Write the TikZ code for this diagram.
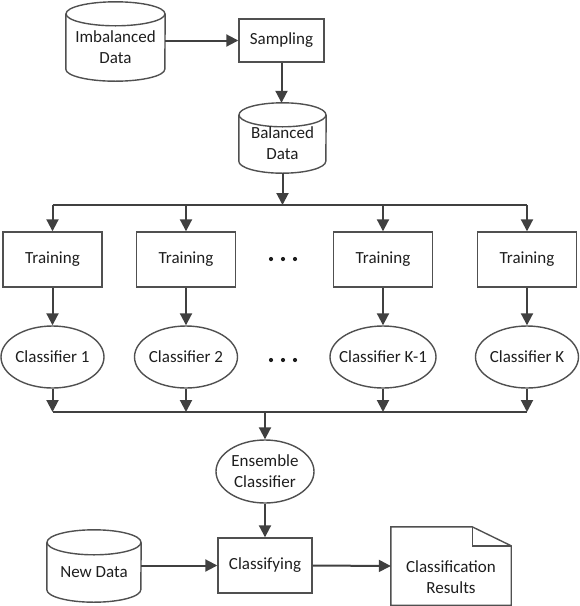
\documentclass[tikz,border=0pt]{standalone}
\usepackage{fontspec}
\setmainfont{Carlito}
\usetikzlibrary{shapes.geometric,arrows.meta,calc}
\definecolor{linec}{HTML}{404040}
\definecolor{boxc}{HTML}{505050}
\definecolor{txtc}{HTML}{1E1E1E}
\newcommand\zw[1]{\makebox[0pt]{#1}}
\newcommand\cylout[3]{%
  \draw[outl] ([yshift=-#3pt]#1.north) ellipse [x radius=#2pt, y radius=#3pt];
  \draw[outl] ([yshift=-#3pt]#1.north west) -- ([yshift=#3pt]#1.south west)
     arc[start angle=180, end angle=360, x radius=#2pt, y radius=#3pt]
     -- ([yshift=-#3pt]#1.north east);}
\begin{document}
\begin{tikzpicture}[x=1pt,y=-1pt, font=\fontsize{17}{21}\selectfont, text=txtc,
  conn/.style={draw=linec, line width=2pt},
  arr/.style={conn, -{Triangle[length=12pt,width=12pt]}},
  outl/.style={draw=boxc, line width=1.4pt},
  box/.style={outl, rectangle, inner sep=0pt, align=center},
  ell/.style={outl, ellipse, inner sep=0pt, align=center},
  cylnode/.style={rectangle, inner sep=0pt},
  lbl/.style={inner sep=0pt, align=center},
  trn/.style={box, minimum width=99pt, minimum height=55pt},
  clf/.style={ell, minimum width=103pt, minimum height=62pt}]
\useasboundingbox (0,0) rectangle (580,606);

% top part
\node[cylnode, minimum width=99pt, minimum height=79pt] (imb) at (115.5,41.5) {};
\cylout{imb}{49.5}{12}
\node[lbl] (imbt) at (115.5,47.5) {Imbalanced\\Data};
\node[box, minimum width=85pt, minimum height=43pt] (samp) at (281.5,40.5) {Sampling};
\node[cylnode, minimum width=87pt, minimum height=70pt] (bal) at (282.5,138) {};
\cylout{bal}{43.5}{12}
\node[lbl] (balt) at (282.5,143.5) {Balanced\\Data};

\draw[arr] (imb.east |- samp.west) -- (samp.west);
\draw[arr] (samp.south) -- (samp.south |- bal.north);

% training
\node[trn] (t1) at (52.5,259.5) {Training};
\node[trn] (t2) at (186,259.5) {Training};
\node[trn] (t3) at (383,259.5) {Training};
\node[trn] (t4) at (527,259.5) {Training};

\coordinate (btop) at (282.5,205);
\path (t1.north |- btop) coordinate (b1);
\path (t2.north |- btop) coordinate (b2);
\path (t3.north |- btop) coordinate (b3);
\path (t4.north |- btop) coordinate (b4);
\draw[arr] (bal.south) -- (btop);
\draw[conn] (b1) -- (b4);
\foreach \i in {1,2,3,4} \draw[arr] (b\i) -- (t\i.north);

% classifiers
\node[clf] (c1) at (52.5,357) {\zw{Classifier 1}};
\node[clf] (c2) at (186,357) {\zw{Classifier 2}};
\node[clf, minimum width=106pt] (c3) at (383,357) {\zw{Classifier K-1}};
\node[clf] (c4) at (527,357) {\zw{Classifier K}};
\foreach \i in {1,2,3,4} \draw[arr] (t\i.south) -- (c\i.north);

% dots
\foreach \xx in {271,283,295} {\fill[txtc] (\xx,259) circle (2.1); \fill[txtc] (\xx,360) circle (2.1);}

% lower bus
\coordinate (dm) at (265,412);
\path (c1.south |- dm) coordinate (d1);
\path (c2.south |- dm) coordinate (d2);
\path (c3.south |- dm) coordinate (d3);
\path (c4.south |- dm) coordinate (d4);
\foreach \i in {1,2,3,4} \draw[arr] (c\i.south) -- (d\i);
\draw[conn] (d1) -- (d4);

\node[ell, minimum width=98pt, minimum height=63pt] (ens) at (265,471.5) {\zw{Ensemble}\\\zw{Classifier}};
\draw[arr] (dm) -- (ens.north);

% bottom row
\node[box, minimum width=94pt, minimum height=55pt] (cls) at (265,565.5) {Classifying};
\draw[arr] (ens.south) -- (cls.north);
\node[cylnode, minimum width=94pt, minimum height=72pt] (new) at (94,566) {};
\cylout{new}{47}{12.5}
\node[lbl] (newt) at (94,572) {New Data};
\draw[arr] (new.east |- cls.west) -- (cls.west);

\node[minimum width=120pt, minimum height=78pt, inner sep=0pt] (res) at (451,566) {};
\draw[outl] (res.north west) -- ([xshift=-39pt]res.north east) -- ([yshift=-19pt]res.north east) -- (res.south east) -- (res.south west) -- cycle;
\draw[outl] ([xshift=-39pt]res.north east) -- ([xshift=-39pt,yshift=-19pt]res.north east) -- ([yshift=-19pt]res.north east);
\node[lbl] (restxt) at (451,577) {Classification\\Results};
\draw[arr] (cls.east) -- (res.west);
\end{tikzpicture}
\end{document}
